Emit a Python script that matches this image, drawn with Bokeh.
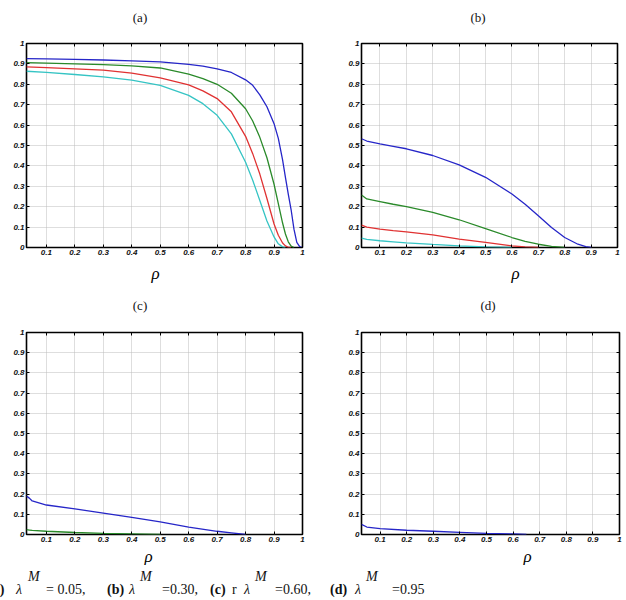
from bokeh.plotting import figure
from bokeh.layouts import column, row
from bokeh.models import FixedTicker, LinearAxis, Title, Div, CustomJSTickFormatter
from bokeh.embed import file_html
from bokeh.resources import INLINE

# ---- axis ticks -----------------------------------------------------------
x_ticks = [0.1, 0.2, 0.3, 0.4, 0.5, 0.6, 0.7, 0.8, 0.9, 1.0]
x_tick_labels = ["0.1", "0.2", "0.3", "0.4", "0.5", "0.6", "0.7", "0.8", "0.9", "1"]
y_ticks = [0.0, 0.1, 0.2, 0.3, 0.4, 0.5, 0.6, 0.7, 0.8, 0.9, 1.0]
y_tick_labels = ["0", "0.1", "0.2", "0.3", "0.4", "0.5", "0.6", "0.7", "0.8", "0.9", "1"]

# ---- panel (a) ------------------------------------------------------------
a_rho = [0.03, 0.1, 0.2, 0.3, 0.4, 0.5, 0.6, 0.65, 0.7, 0.75, 0.8, 0.825,
         0.85, 0.875, 0.9, 0.915, 0.93, 0.94, 0.95, 0.96, 0.97, 0.98, 0.99, 1.0]
a_blue = [0.926, 0.925, 0.922, 0.919, 0.915, 0.910, 0.898, 0.889, 0.876, 0.858,
          0.822, 0.795, 0.748, 0.690, 0.607, 0.535, 0.430, 0.344, 0.262, 0.185,
          0.090, 0.025, 0.004, 0.0]
a_green = [0.906, 0.904, 0.900, 0.896, 0.890, 0.880, 0.850, 0.828, 0.800, 0.756,
           0.680, 0.620, 0.540, 0.440, 0.310, 0.215, 0.120, 0.066, 0.028, 0.007,
           0.0, 0.0, 0.0, 0.0]
a_red = [0.885, 0.882, 0.876, 0.869, 0.855, 0.832, 0.797, 0.768, 0.730, 0.665,
         0.545, 0.460, 0.360, 0.240, 0.115, 0.060, 0.022, 0.008, 0.001, 0.0,
         0.0, 0.0, 0.0, 0.0]
a_cyan = [0.864, 0.858, 0.848, 0.836, 0.820, 0.795, 0.746, 0.705, 0.648, 0.557,
          0.418, 0.330, 0.230, 0.130, 0.052, 0.018, 0.003, 0.0, 0.0, 0.0,
          0.0, 0.0, 0.0, 0.0]

# ---- panel (b) ------------------------------------------------------------
b_rho = [0.03, 0.05, 0.1, 0.15, 0.2, 0.3, 0.4, 0.5, 0.6, 0.65, 0.7, 0.75,
         0.8, 0.85, 0.88, 0.9, 0.95, 1.0]
b_blue = [0.533, 0.522, 0.508, 0.496, 0.484, 0.451, 0.405, 0.344, 0.262, 0.212,
          0.156, 0.098, 0.049, 0.016, 0.004, 0.0, 0.0, 0.0]
b_green = [0.257, 0.238, 0.225, 0.212, 0.200, 0.172, 0.136, 0.093, 0.049, 0.030,
           0.016, 0.005, 0.0, 0.0, 0.0, 0.0, 0.0, 0.0]
b_red = [0.110, 0.100, 0.090, 0.083, 0.077, 0.062, 0.041, 0.025, 0.008, 0.003,
         0.0, 0.0, 0.0, 0.0, 0.0, 0.0, 0.0, 0.0]
b_cyan = [0.046, 0.040, 0.033, 0.028, 0.023, 0.015, 0.008, 0.003, 0.0, 0.0,
          0.0, 0.0, 0.0, 0.0, 0.0, 0.0, 0.0, 0.0]

# ---- panel (c) ------------------------------------------------------------
c_rho = [0.03, 0.04, 0.05, 0.1, 0.2, 0.3, 0.4, 0.5, 0.6, 0.7, 0.75, 0.8, 0.9, 1.0]
c_blue = [0.190, 0.180, 0.166, 0.146, 0.127, 0.106, 0.085, 0.062, 0.037, 0.016,
          0.008, 0.0, 0.0, 0.0]
c_green = [0.024, 0.022, 0.020, 0.016, 0.010, 0.006, 0.003, 0.0, 0.0, 0.0,
           0.0, 0.0, 0.0, 0.0]

# ---- panel (d) ------------------------------------------------------------
d_rho = [0.03, 0.05, 0.1, 0.2, 0.3, 0.4, 0.5, 0.6, 0.65, 0.7, 0.8, 0.9, 1.0]
d_blue = [0.050, 0.037, 0.029, 0.021, 0.016, 0.011, 0.006, 0.003, 0.0, 0.0,
          0.0, 0.0, 0.0]

BLUE, GREEN, RED, CYAN = "#2626c8", "#2a8a2a", "#e03232", "#35c4c4"

TICK_FONT = "Liberation Sans"
SERIF = "Liberation Serif"


def until_zero(xs, ys):
    """Keep a curve up to (and including) the first point where it reaches zero."""
    for i, v in enumerate(ys):
        if v <= 0:
            return xs[: i + 1], ys[: i + 1]
    return xs, ys


def panel(width, height, left, right, top, bottom, curves, rho_offset, rho_standoff):
    p = figure(width=width, height=height, x_range=(0.03, 1.0), y_range=(0.0, 1.0),
               output_backend="svg", toolbar_location=None,
               min_border_left=left, min_border_right=right,
               min_border_top=top, min_border_bottom=bottom)
    p.background_fill_color = "white"
    p.border_fill_color = "white"
    p.outline_line_color = "black"
    p.outline_line_width = 1.6
    p.outline_line_alpha = 1.0

    for ax, ticks, labels in ((p.xaxis[0], x_ticks, x_tick_labels),
                              (p.yaxis[0], y_ticks, y_tick_labels)):
        ax.ticker = FixedTicker(ticks=ticks)
        ax.major_label_overrides = dict(zip(ticks, labels))
        ax.axis_line_color = None
        ax.major_tick_in = 3
        ax.major_tick_out = 0
        ax.major_tick_line_color = "black"
        ax.minor_tick_line_color = None
        ax.major_label_text_font = TICK_FONT
        ax.major_label_text_font_style = "bold italic"
        ax.major_label_text_font_size = "8px"
        ax.major_label_text_color = "#111111"
    p.xaxis.major_label_standoff = 2
    p.yaxis.major_label_standoff = 2

    # tick marks (no labels) on the top and right edges of the box
    for side, ticks in (("above", x_ticks), ("right", y_ticks)):
        ax = LinearAxis(ticker=FixedTicker(ticks=ticks), axis_line_color=None,
                        major_tick_in=3, major_tick_out=0,
                        major_tick_line_color="black", minor_tick_line_color=None,
                        formatter=CustomJSTickFormatter(code="return ''"),
                        major_label_standoff=0)
        p.add_layout(ax, side)

    p.xgrid.ticker = FixedTicker(ticks=x_ticks)
    p.ygrid.ticker = FixedTicker(ticks=y_ticks)
    for g in (p.xgrid, p.ygrid):
        g.grid_line_color = "#bdbdbd"
        g.grid_line_dash = "1 1"
        g.grid_line_width = 1

    for xs, ys, color in curves:
        xs, ys = until_zero(xs, ys)
        p.line(xs, ys, line_color=color, line_width=1.3)

    p.add_layout(Title(text="\u03c1", align="left", offset=rho_offset,
                       standoff=rho_standoff, text_font=SERIF,
                       text_font_style="italic", text_font_size="17px",
                       text_color="black"), "below")
    return p


def text_strip(height, items, size, base_style=""):
    """A strip of absolutely placed texts: (text, x, y, css, centered)."""
    spans = []
    for txt, x, y, css, centered in items:
        shift = "transform:translate(-50%,-50%);" if centered else ""
        spans.append(f'<span style="position:absolute;left:{x}px;top:{y}px;{shift}'
                     f'white-space:nowrap;{css}">{txt}</span>')
    html = (f'<div style="position:relative;width:626px;height:{height}px;overflow:hidden;'
            f"font-family:'{SERIF}';font-size:{size}px;line-height:{size}px;color:#111;"
            f'{base_style}">' + "".join(spans) + "</div>")
    return Div(text=html, width=626, height=height,
               styles={"overflow": "hidden", "margin": "0", "padding": "0"})


# panel tags above each row
head_top = text_strip(30, [("(a)", 140, 17, "", True), ("(b)", 478, 17, "", True)], 13)
head_bottom = text_strip(28, [("(c)", 140, 15, "", True), ("(d)", 488, 15, "", True)], 13)

pa = panel(313, 260, 26, 11, 13, 43,
           [(a_rho, a_blue, BLUE), (a_rho, a_green, GREEN),
            (a_rho, a_red, RED), (a_rho, a_cyan, CYAN)], 125, 8)
pb = panel(313, 260, 48, 9, 13, 43,
           [(b_rho, b_blue, BLUE), (b_rho, b_green, GREEN),
            (b_rho, b_red, RED), (b_rho, b_cyan, CYAN)], 150, 8)
pc = panel(313, 247, 26, 11, 14, 28,
           [(c_rho, c_blue, BLUE), (c_rho, c_green, GREEN)], 118, 0)
pd = panel(313, 247, 48, 7, 14, 29,
           [(d_rho, d_blue, BLUE)], 162, 0)

# caption line: (text, left px, baseline px, style)
caption_parts = [
    ("(a)", -12, 30, "b"), ("\u03bb", 16, 30, "i"), ("M", 28, 17, "i"), ("= 0.05,", 46, 30, ""),
    ("(b)", 107, 30, "b"), ("\u03bb", 129, 30, "i"), ("M", 140, 17, "i"), ("=0.30,", 162, 30, ""),
    ("(c)", 210, 30, "b"), ("r", 232, 30, ""), ("\u03bb", 244, 30, "i"), ("M", 255, 17, "i"),
    ("=0.60,", 275, 30, ""),
    ("(d)", 330, 30, "b"), ("\u03bb", 355, 30, "i"), ("M", 366, 17, "i"), ("=0.95", 392, 30, ""),
]
caption_items = []
for txt, x, base, st in caption_parts:
    css = "font-weight:bold;" if st == "b" else ("font-style:italic;" if st == "i" else "")
    caption_items.append((txt, x, base - 12, css, False))
caption = text_strip(35, caption_items, 14)

layout = column(head_top, row(pa, pb, spacing=0), head_bottom, row(pc, pd, spacing=0),
                caption, spacing=0)

open("out.html", "w").write(file_html(layout, INLINE))
